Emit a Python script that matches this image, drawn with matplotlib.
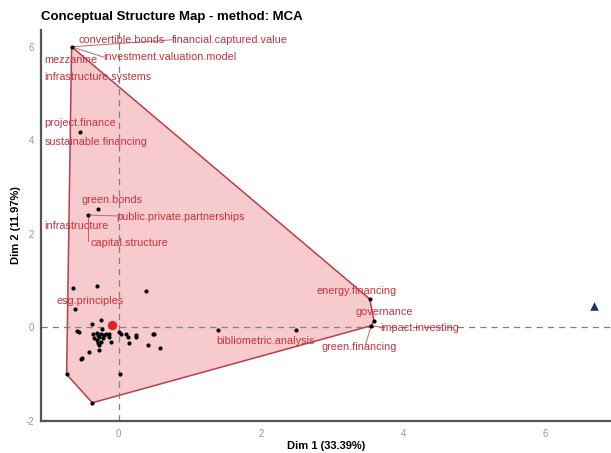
import numpy as np
import matplotlib
matplotlib.use("Agg")
import matplotlib.pyplot as plt

plt.rcParams['font.family'] = ['Liberation Sans', 'DejaVu Sans']
plt.rcParams['axes.unicode_minus'] = False

# Word coordinates on the first two MCA dimensions
dim1 = [-0.66, -0.54, -0.29, -0.43, 3.53, 3.59, 3.55, -0.73, -0.37,
        -0.61, -0.64, -0.30, 0.38, 1.40, 2.49,
        -0.38, -0.25, -0.58, -0.55, -0.36, -0.31, -0.29, -0.27, -0.24, -0.22,
        -0.34, -0.31, -0.29, -0.27, -0.24, -0.20, -0.17, -0.13, -0.14, -0.10,
        0.01, 0.04, 0.11, 0.13, 0.14, 0.24, 0.25, 0.41, 0.48, 0.50, 0.58,
        -0.27, -0.41, -0.52, -0.53, 0.02, -0.23]
dim2 = [6.00, 4.18, 2.53, 2.40, 0.60, 0.13, 0.03, -1.01, -1.62,
        0.39, 0.84, 0.89, 0.78, -0.06, -0.06,
        0.06, 0.15, -0.09, -0.11, -0.15, -0.12, -0.17, -0.21, -0.15, -0.24,
        -0.24, -0.28, -0.34, -0.39, -0.31, -0.17, -0.14, -0.14, -0.21, -0.31,
        -0.10, -0.14, -0.14, -0.21, -0.34, -0.17, -0.21, -0.39, -0.15, -0.15, -0.44,
        -0.49, -0.53, -0.66, -0.69, -1.01, -0.04]

# Cluster centroid and supplementary point
centroid = (-0.09, 0.05)
supplementary = (6.68, 0.46)

# Labelled words: (text, point index, label x, label y)
labels = [
    ("convertible.bonds", 0, -0.56, 6.15),
    ("financial.captured.value", 0, 0.75, 6.15),
    ("investment.valuation.model", 0, -0.21, 5.78),
    ("mezzanine", 0, -1.04, 5.72),
    ("infrastructure.systems", 0, -1.04, 5.35),
    ("project.finance", 1, -1.04, 4.36),
    ("sustainable.financing", 1, -1.04, 3.96),
    ("green.bonds", 2, -0.52, 2.73),
    ("public.private.partnerships", 3, -0.03, 2.36),
    ("infrastructure", 3, -1.04, 2.16),
    ("capital.structure", 3, -0.39, 1.80),
    ("esg.principles", 9, -0.87, 0.56),
    ("energy.financing", 4, 2.78, 0.77),
    ("governance", 5, 3.33, 0.32),
    ("impact.investing", 6, 3.68, -0.02),
    ("green.financing", 6, 2.85, -0.43),
    ("bibliometric.analysis", 13, 1.37, -0.30),
]

hull_idx = [0, 4, 5, 6, 8, 7]

txt_red = '#C8323C'
fig = plt.figure(figsize=(6.11, 4.53), dpi=100)
ax = fig.add_axes([41/611, (453-421)/453, (611-41)/611, (421-30)/453])

hx = [dim1[i] for i in hull_idx]
hy = [dim2[i] for i in hull_idx]
ax.fill(hx, hy, facecolor='#F7CACD', edgecolor='#B8404C', linewidth=1.1,
        zorder=1)

ax.axhline(0, color='#808080', linestyle=(0, (5, 4)), linewidth=0.9, zorder=2)
ax.axvline(0, color='#808080', linestyle=(0, (5, 4)), linewidth=0.9, zorder=2)

ax.scatter(dim1, dim2, s=9, color='black', zorder=4, linewidths=0)
ax.scatter([centroid[0]], [centroid[1]], s=45, color='#E0222A', zorder=5,
           linewidths=0)
ax.scatter([supplementary[0]], [supplementary[1]], s=38, marker='^',
           color='#1E3558', zorder=5, linewidths=0)

# Leader lines for repelled labels
leaders = [
    (0, (0.75, 6.15)),
    (0, (-0.21, 5.78)),
    (3, (-0.03, 2.38)),
    (3, (-0.43, 1.85)),
    (6, (3.68, 0.0)),
    (6, (3.47, -0.38)),
]
for i, (lx, ly) in leaders:
    ax.plot([dim1[i], lx], [dim2[i], ly], color='#C86068', linewidth=0.7,
            zorder=3)

for text, i, lx, ly in labels:
    ax.text(lx, ly, text, color=txt_red, fontsize=7.85, ha='left',
            va='center', zorder=6)

ax.set_xlim(-1.09, 6.92)
ax.set_ylim(-2.01, 6.36)
ax.set_xticks([0, 2, 4, 6])
ax.set_yticks([-2, 0, 2, 4, 6])
ax.tick_params(axis='x', length=0, labelsize=7, colors='#999999', pad=6)
ax.tick_params(axis='y', length=0, labelsize=7, colors='#999999', pad=5)
for s in ['top', 'right']:
    ax.spines[s].set_visible(False)
for s in ['left', 'bottom']:
    ax.spines[s].set_color('#555555')
    ax.spines[s].set_linewidth(1.6)

ax.set_xlabel('Dim 1 (33.39%)', fontsize=8, fontweight='bold', labelpad=1)
ax.set_ylabel('Dim 2 (11.97%)', fontsize=8, fontweight='bold', labelpad=3)
fig.text(41/611, 1 - 17/453, 'Conceptual Structure Map - method: MCA',
         fontsize=9.5, fontweight='bold', ha='left', va='center')

fig.savefig('out.png', dpi=100)
